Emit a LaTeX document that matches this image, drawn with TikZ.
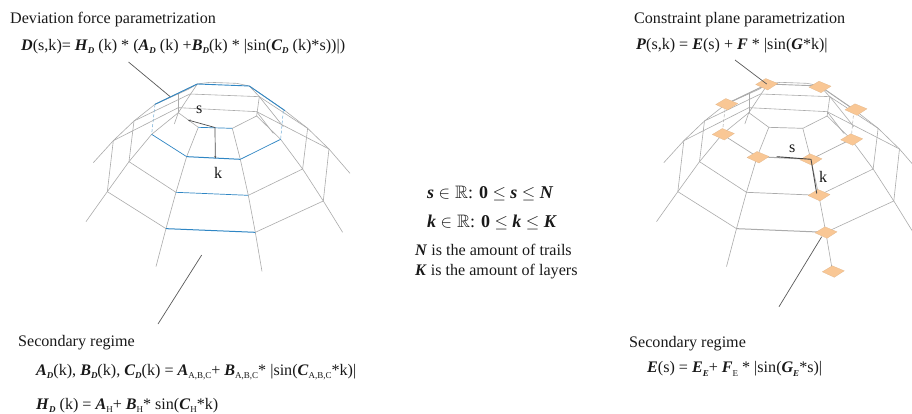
\documentclass[tikz,border=0pt]{standalone}
\usetikzlibrary{arrows.meta}
\usepackage{amssymb}
\usepackage{fontspec}
\setmainfont{Liberation Serif}
\newcommand{\bi}[1]{\textbf{\textit{#1}}}
\newcommand{\sbs}[1]{\raisebox{-3.5pt}{\fontsize{9}{9}\selectfont #1}}
\newcommand{\sbb}[1]{\raisebox{-3.5pt}{\fontsize{9}{9}\selectfont\bi{#1}}}
\definecolor{grid}{HTML}{ABABAB}
\definecolor{bluel}{HTML}{2F86C4}
\definecolor{orangep}{HTML}{F9C795}
\tikzset{
  txt/.style={anchor=base west,inner sep=0pt,font=\fontsize{16.1}{18}\selectfont,text=black!90},
  bigtxt/.style={txt,font=\fontsize{18}{20}\selectfont},
  gl/.style={draw=grid,line width=0.6pt},
  leader/.style={draw=black!65,line width=0.7pt},
  mark arrow/.style={draw=black!70,line width=0.7pt},
  pad/.style={fill=orangep,draw=orangep!90!black,line width=0.2pt},
}
% dome: #1 = x offset, #2 = ring colour, #3 = dashed connecting colour
\newcommand{\dome}[3]{%
\begin{scope}[xshift=#1pt,x=0.3333pt,y=-0.3333pt,shift={(180,210)}]
 % trails
 \draw[gl] (415,172)--(380,260)--(348,367)--(318,476)--(288,590);
 \draw[gl] (517,175)--(541,268)--(565,376)--(586,487)--(606,604);
 \draw[gl] (355,128)--(275,193)--(207,275)--(142,365)--(78,455);
 \draw[gl] (590,138)--(662,208)--(728,297)--(790,393)--(848,487);
 % silhouette
 \draw[gl] (100,278)--(160,212)--(222,153)--(285,103)--(412,42)--(450,37)--(530,40)--(568,48)--(675,122)--(743,175)--(807,237)--(870,310);
 % back lines
 \draw[gl] (160,212)--(355,113)--(590,125)--(807,237);
 \draw[gl] (222,153)--(390,72)--(598,80)--(743,175);
 \draw[gl] (412,42)--(355,128)--(343,162);
 \draw[gl] (568,48)--(598,80)--(590,138);
 \draw[gl] (412,42)--(385,58)--(285,103);
 \draw[gl] (355,70)--(355,128);
 \draw[gl] (590,125)--(640,190);
 \draw[gl] (598,80)--(670,170);
 % vertical links
 \draw[gl] (160,212)--(142,365);
 \draw[gl] (222,153)--(207,275);
 \draw[gl] (743,175)--(728,297);
 \draw[gl] (807,237)--(790,393);
 \draw[#3,line width=0.5pt,densely dashed] (285,103)--(275,193);
 \draw[#3,line width=0.5pt,densely dashed] (670,122)--(662,208);
 % rings
 \draw[gl] (355,128)--(415,172);
 \draw[gl] (517,175)--(590,138);
 \draw[#2,line width=0.7pt] (415,172)--(517,175);
 \draw[#2,line width=0.7pt] (275,193)--(380,260);
 \draw[#2,line width=1pt] (380,260)--(541,268);
 \draw[#2,line width=0.7pt] (541,268)--(662,208);
 \draw[gl] (207,275)--(348,367);
 \draw[#2,line width=0.7pt] (348,367)--(565,376);
 \draw[gl] (565,376)--(728,297);
 \draw[gl] (142,365)--(318,476);
 \draw[#2,line width=1pt] (318,476)--(586,487);
 \draw[gl] (586,487)--(790,393);
 % top ring
 \draw[#2,line width=0.9pt] (285,103)--(412,42)--(568,48)--(675,122);
\end{scope}}
\begin{document}
\begin{tikzpicture}[x=1pt,y=-1pt]
\useasboundingbox (0,0) rectangle (912,413);
\fill[white] (0,0) rectangle (912,413);
\dome{0}{bluel}{bluel!70}
\dome{570.5}{grid}{grid}
% pads on the right dome
\foreach \cx/\cy/\nm in {766.7/84/a,820/86.7/b,856/109.3/c,851.7/139.3/d,811/159.3/e,758/157/f,723.3/134/g,726.7/104/h,819/195/i,826/232.3/j,833.3/271.3/l}{
  \fill[pad] (\cx-11,\cy+0.5)--(\cx-1,\cy-5.5)--(\cx+11,\cy-0.5)--(\cx+1,\cy+6)--cycle;
  \coordinate (p\nm) at (\cx,\cy);
}
% leaders
\coordinate (la) at (128.5,62); \coordinate (lb) at (170,96.5);
\coordinate (lc) at (201.7,255); \coordinate (ld) at (158,324);
\coordinate (ra) at (735,60); \coordinate (rc) at (821.7,236.7); \coordinate (rd) at (779,306.7);
\draw[leader] (la)--(lb);
\draw[leader] (lc)--(ld);
\draw[leader] (ra)--(pa);
\draw[leader] (rc)--(rd);
% s, k markers
\coordinate (sa) at (215,127.5); \coordinate (sb) at (188,120);
\coordinate (ka) at (215.3,158.5);
\draw[mark arrow,-{Stealth[length=2.5pt,width=2pt]}] (sa)--(sb);
\draw[mark arrow,-{Stealth[length=2.5pt,width=2pt]}] (sa)--(ka);
\coordinate (rsa) at (776.7,156.7); \coordinate (rka) at (816.7,193.5);
\draw[black!75,line width=0.9pt] (rsa)--(pe);
\draw[black!70,line width=0.9pt] (pe)--(rka);
\node[txt] (ls) at (196,113) {s};
\node[txt] (lk) at (214,178) {k};
\node[txt] (rs) at (789,152.5) {s};
\node[txt] (rk) at (819,182) {k};
% texts
\node[txt] (t1) at (10,23.5) {Deviation force parametrization};
\node[txt] (t2) at (21,50) {\bi{D}(s,k)= \bi{H}\sbb{D} (k) * (\bi{A}\sbb{D} (k) +\bi{B}\sbb{D}(k) * |sin(\bi{C}\sbb{D} (k)*s))|)};
\node[txt] (t3) at (634,23.5) {Constraint plane parametrization};
\node[txt] (t4) at (636,49.5) {\bi{P}(s,k) = \bi{E}(s) + \bi{F} * |sin(\bi{G}*k)|};
\node[txt] (t5) at (18,346) {Secondary regime};
\node[txt] (t6) at (36,375) {\bi{A}\sbb{D}(k), \bi{B}\sbb{D}(k), \bi{C}\sbb{D}(k) = \bi{A}\sbs{A,B,C}+ \bi{B}\sbs{A,B,C}* |sin(\bi{C}\sbs{A,B,C}*k)|};
\node[txt] (t7) at (36,409) {\bi{H}\sbb{D} (k) = \bi{A}\sbs{H}+ \bi{B}\sbs{H}* sin(\bi{C}\sbs{H}*k)};
\node[txt] (t8) at (629,347) {Secondary regime};
\node[txt] (t9) at (647,372.5) {\bi{E}(s) = \bi{E}\sbb{E}+ \bi{F}\sbs{E} * |sin(\bi{G}\sbb{E}*s)|};
\node[bigtxt] (m1) at (427,198) {\bi{s} $\in\mathbb{R}$: \textbf{0} $\leq$ \bi{s} $\leq$ \bi{N}};
\node[bigtxt] (m2) at (427,227) {\bi{k} $\in\mathbb{R}$: \textbf{0} $\leq$ \bi{k} $\leq$ \bi{K}};
\node[txt] (m3) at (415,255) {\bi{N} is the amount of trails};
\node[txt] (m4) at (415,275) {\bi{K} is the amount of layers};
\end{tikzpicture}
\end{document}
